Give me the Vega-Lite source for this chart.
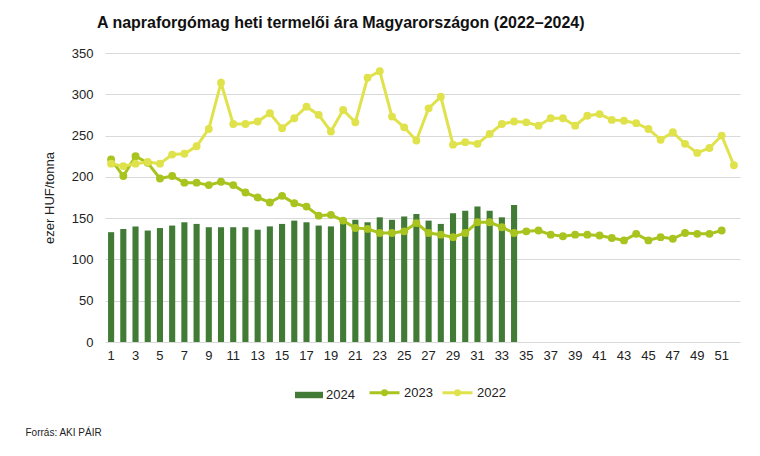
{
  "$schema": "https://vega.github.io/schema/vega-lite/v6.json",
  "width": 635,
  "height": 289,
  "autosize": {"type": "none"},
  "padding": {"left": 105, "top": 53, "right": 20, "bottom": 114},
  "background": "white",
  "config": {
    "font": "Liberation Sans",
    "view": {"stroke": null},
    "axis": {"labelColor": "#222", "titleColor": "#222", "labelFont": "Liberation Sans", "titleFont": "Liberation Sans"},
    "legend": {"labelFont": "Liberation Sans"}
  },
  "title": {
    "text": "A napraforgómag heti termelői ára Magyarországon (2022–2024)",
    "anchor": "start",
    "frame": "group",
    "dx": -8,
    "offset": 16,
    "fontSize": 16,
    "fontWeight": "bold",
    "color": "#111",
    "font": "Liberation Sans"
  },
  "datasets": {
    "bars": [
      {"week": 1, "year": "2024", "price": 133}, {"week": 2, "year": "2024", "price": 137}, {"week": 3, "year": "2024", "price": 140},
      {"week": 4, "year": "2024", "price": 135}, {"week": 5, "year": "2024", "price": 138}, {"week": 6, "year": "2024", "price": 141},
      {"week": 7, "year": "2024", "price": 145}, {"week": 8, "year": "2024", "price": 143}, {"week": 9, "year": "2024", "price": 139},
      {"week": 10, "year": "2024", "price": 139}, {"week": 11, "year": "2024", "price": 139}, {"week": 12, "year": "2024", "price": 139},
      {"week": 13, "year": "2024", "price": 136}, {"week": 14, "year": "2024", "price": 140}, {"week": 15, "year": "2024", "price": 143},
      {"week": 16, "year": "2024", "price": 147}, {"week": 17, "year": "2024", "price": 145}, {"week": 18, "year": "2024", "price": 141},
      {"week": 19, "year": "2024", "price": 140}, {"week": 20, "year": "2024", "price": 144}, {"week": 21, "year": "2024", "price": 148},
      {"week": 22, "year": "2024", "price": 145}, {"week": 23, "year": "2024", "price": 151}, {"week": 24, "year": "2024", "price": 148},
      {"week": 25, "year": "2024", "price": 152}, {"week": 26, "year": "2024", "price": 155}, {"week": 27, "year": "2024", "price": 147},
      {"week": 28, "year": "2024", "price": 143}, {"week": 29, "year": "2024", "price": 156}, {"week": 30, "year": "2024", "price": 159},
      {"week": 31, "year": "2024", "price": 164}, {"week": 32, "year": "2024", "price": 159}, {"week": 33, "year": "2024", "price": 151},
      {"week": 34, "year": "2024", "price": 166}
    ],
    "lines": [
      {"week": 1, "year": "2023", "price": 221}, {"week": 2, "year": "2023", "price": 201}, {"week": 3, "year": "2023", "price": 225},
      {"week": 4, "year": "2023", "price": 217}, {"week": 5, "year": "2023", "price": 198}, {"week": 6, "year": "2023", "price": 201},
      {"week": 7, "year": "2023", "price": 193}, {"week": 8, "year": "2023", "price": 193}, {"week": 9, "year": "2023", "price": 190},
      {"week": 10, "year": "2023", "price": 194}, {"week": 11, "year": "2023", "price": 190}, {"week": 12, "year": "2023", "price": 181},
      {"week": 13, "year": "2023", "price": 175}, {"week": 14, "year": "2023", "price": 169}, {"week": 15, "year": "2023", "price": 177},
      {"week": 16, "year": "2023", "price": 168}, {"week": 17, "year": "2023", "price": 164}, {"week": 18, "year": "2023", "price": 153},
      {"week": 19, "year": "2023", "price": 154}, {"week": 20, "year": "2023", "price": 147}, {"week": 21, "year": "2023", "price": 138},
      {"week": 22, "year": "2023", "price": 137}, {"week": 23, "year": "2023", "price": 132}, {"week": 24, "year": "2023", "price": 132},
      {"week": 25, "year": "2023", "price": 134}, {"week": 26, "year": "2023", "price": 144}, {"week": 27, "year": "2023", "price": 132},
      {"week": 28, "year": "2023", "price": 130}, {"week": 29, "year": "2023", "price": 127}, {"week": 30, "year": "2023", "price": 132},
      {"week": 31, "year": "2023", "price": 145}, {"week": 32, "year": "2023", "price": 145}, {"week": 33, "year": "2023", "price": 139},
      {"week": 34, "year": "2023", "price": 132}, {"week": 35, "year": "2023", "price": 134}, {"week": 36, "year": "2023", "price": 135},
      {"week": 37, "year": "2023", "price": 130}, {"week": 38, "year": "2023", "price": 128}, {"week": 39, "year": "2023", "price": 130},
      {"week": 40, "year": "2023", "price": 130}, {"week": 41, "year": "2023", "price": 129}, {"week": 42, "year": "2023", "price": 126},
      {"week": 43, "year": "2023", "price": 123}, {"week": 44, "year": "2023", "price": 131}, {"week": 45, "year": "2023", "price": 123},
      {"week": 46, "year": "2023", "price": 127}, {"week": 47, "year": "2023", "price": 125}, {"week": 48, "year": "2023", "price": 132},
      {"week": 49, "year": "2023", "price": 131}, {"week": 50, "year": "2023", "price": 131}, {"week": 51, "year": "2023", "price": 135},
      {"week": 1, "year": "2022", "price": 216}, {"week": 2, "year": "2022", "price": 213}, {"week": 3, "year": "2022", "price": 216},
      {"week": 4, "year": "2022", "price": 218}, {"week": 5, "year": "2022", "price": 216}, {"week": 6, "year": "2022", "price": 227},
      {"week": 7, "year": "2022", "price": 228}, {"week": 8, "year": "2022", "price": 237}, {"week": 9, "year": "2022", "price": 258},
      {"week": 10, "year": "2022", "price": 314}, {"week": 11, "year": "2022", "price": 264}, {"week": 12, "year": "2022", "price": 264},
      {"week": 13, "year": "2022", "price": 267}, {"week": 14, "year": "2022", "price": 277}, {"week": 15, "year": "2022", "price": 259},
      {"week": 16, "year": "2022", "price": 271}, {"week": 17, "year": "2022", "price": 285}, {"week": 18, "year": "2022", "price": 275},
      {"week": 19, "year": "2022", "price": 255}, {"week": 20, "year": "2022", "price": 281}, {"week": 21, "year": "2022", "price": 266},
      {"week": 22, "year": "2022", "price": 320}, {"week": 23, "year": "2022", "price": 328}, {"week": 24, "year": "2022", "price": 273},
      {"week": 25, "year": "2022", "price": 260}, {"week": 26, "year": "2022", "price": 244}, {"week": 27, "year": "2022", "price": 283},
      {"week": 28, "year": "2022", "price": 297}, {"week": 29, "year": "2022", "price": 239}, {"week": 30, "year": "2022", "price": 242},
      {"week": 31, "year": "2022", "price": 240}, {"week": 32, "year": "2022", "price": 252}, {"week": 33, "year": "2022", "price": 264},
      {"week": 34, "year": "2022", "price": 267}, {"week": 35, "year": "2022", "price": 266}, {"week": 36, "year": "2022", "price": 262},
      {"week": 37, "year": "2022", "price": 271}, {"week": 38, "year": "2022", "price": 271}, {"week": 39, "year": "2022", "price": 262},
      {"week": 40, "year": "2022", "price": 274}, {"week": 41, "year": "2022", "price": 276}, {"week": 42, "year": "2022", "price": 269},
      {"week": 43, "year": "2022", "price": 268}, {"week": 44, "year": "2022", "price": 265}, {"week": 45, "year": "2022", "price": 258},
      {"week": 46, "year": "2022", "price": 245}, {"week": 47, "year": "2022", "price": 254}, {"week": 48, "year": "2022", "price": 240},
      {"week": 49, "year": "2022", "price": 229}, {"week": 50, "year": "2022", "price": 235}, {"week": 51, "year": "2022", "price": 250},
      {"week": 52, "year": "2022", "price": 214}
    ]
  },
  "encoding": {
    "x": {
      "field": "week",
      "type": "ordinal",
      "scale": {"domain": [1,2,3,4,5,6,7,8,9,10,11,12,13,14,15,16,17,18,19,20,21,22,23,24,25,26,27,28,29,30,31,32,33,34,35,36,37,38,39,40,41,42,43,44,45,46,47,48,49,50,51,52], "paddingInner": 0.5, "paddingOuter": 0.25},
      "axis": {
        "values": [1,3,5,7,9,11,13,15,17,19,21,23,25,27,29,31,33,35,37,39,41,43,45,47,49,51],
        "labelAngle": 0,
        "labelFontSize": 13,
        "labelPadding": 7,
        "domain": false,
        "ticks": false,
        "grid": false,
        "title": "Forrás: AKI PÁIR",
        "titleFontSize": 10,
        "titleFontWeight": "normal",
        "titleAlign": "left",
        "titleBaseline": "middle",
        "titleX": -80,
        "titleY": 90
      }
    },
    "y": {
      "field": "price",
      "type": "quantitative",
      "scale": {"domain": [0, 350], "nice": false},
      "axis": {
        "values": [0, 50, 100, 150, 200, 250, 300, 350],
        "title": "ezer HUF/tonna",
        "titleFontSize": 13,
        "titleFontWeight": "normal",
        "titlePadding": 15,
        "labelFontSize": 13,
        "labelPadding": 12,
        "domain": false,
        "ticks": false,
        "grid": true,
        "gridColor": "#d9d9d9",
        "gridWidth": 1
      }
    }
  },
  "layer": [
    {
      "data": {"name": "bars"},
      "mark": {"type": "bar"},
      "encoding": {
        "fill": {
          "field": "year",
          "type": "nominal",
          "scale": {"domain": ["2024"], "range": ["#417B36"]},
          "legend": {
            "title": null,
            "orient": "none",
            "legendX": 190,
            "legendY": 328,
            "padding": 0,
            "symbolType": "M-1,-0.23H1V0.23H-1Z",
            "symbolSize": 784,
            "symbolStrokeWidth": 0,
            "labelFontSize": 13,
            "labelOffset": 3,
            "labelColor": "#222"
          }
        }
      }
    },
    {
      "data": {"name": "lines"},
      "mark": {"type": "line", "strokeWidth": 3},
      "encoding": {
        "color": {
          "field": "year",
          "type": "nominal",
          "scale": {"domain": ["2023", "2022"], "range": ["#A9C41F", "#E0E24C"]},
          "legend": {
            "title": null,
            "orient": "none",
            "direction": "horizontal",
            "legendX": 263,
            "legendY": 323,
            "padding": 0,
            "symbolType": "M-1,0H1M-0.13,0A0.13,0.13,0,1,1,0.13,0A0.13,0.13,0,1,1,-0.13,0Z",
            "symbolSize": 900,
            "symbolStrokeWidth": 3,
            "labelFontSize": 13,
            "labelOffset": 3,
            "columnPadding": 3,
            "labelColor": "#222"
          }
        },
        "detail": {"field": "year"}
      }
    },
    {
      "data": {"name": "lines"},
      "mark": {"type": "point", "filled": true, "size": 62, "opacity": 1},
      "encoding": {
        "color": {"field": "year", "type": "nominal"}
      }
    }
  ],
  "resolve": {"scale": {"color": "shared"}}
}
